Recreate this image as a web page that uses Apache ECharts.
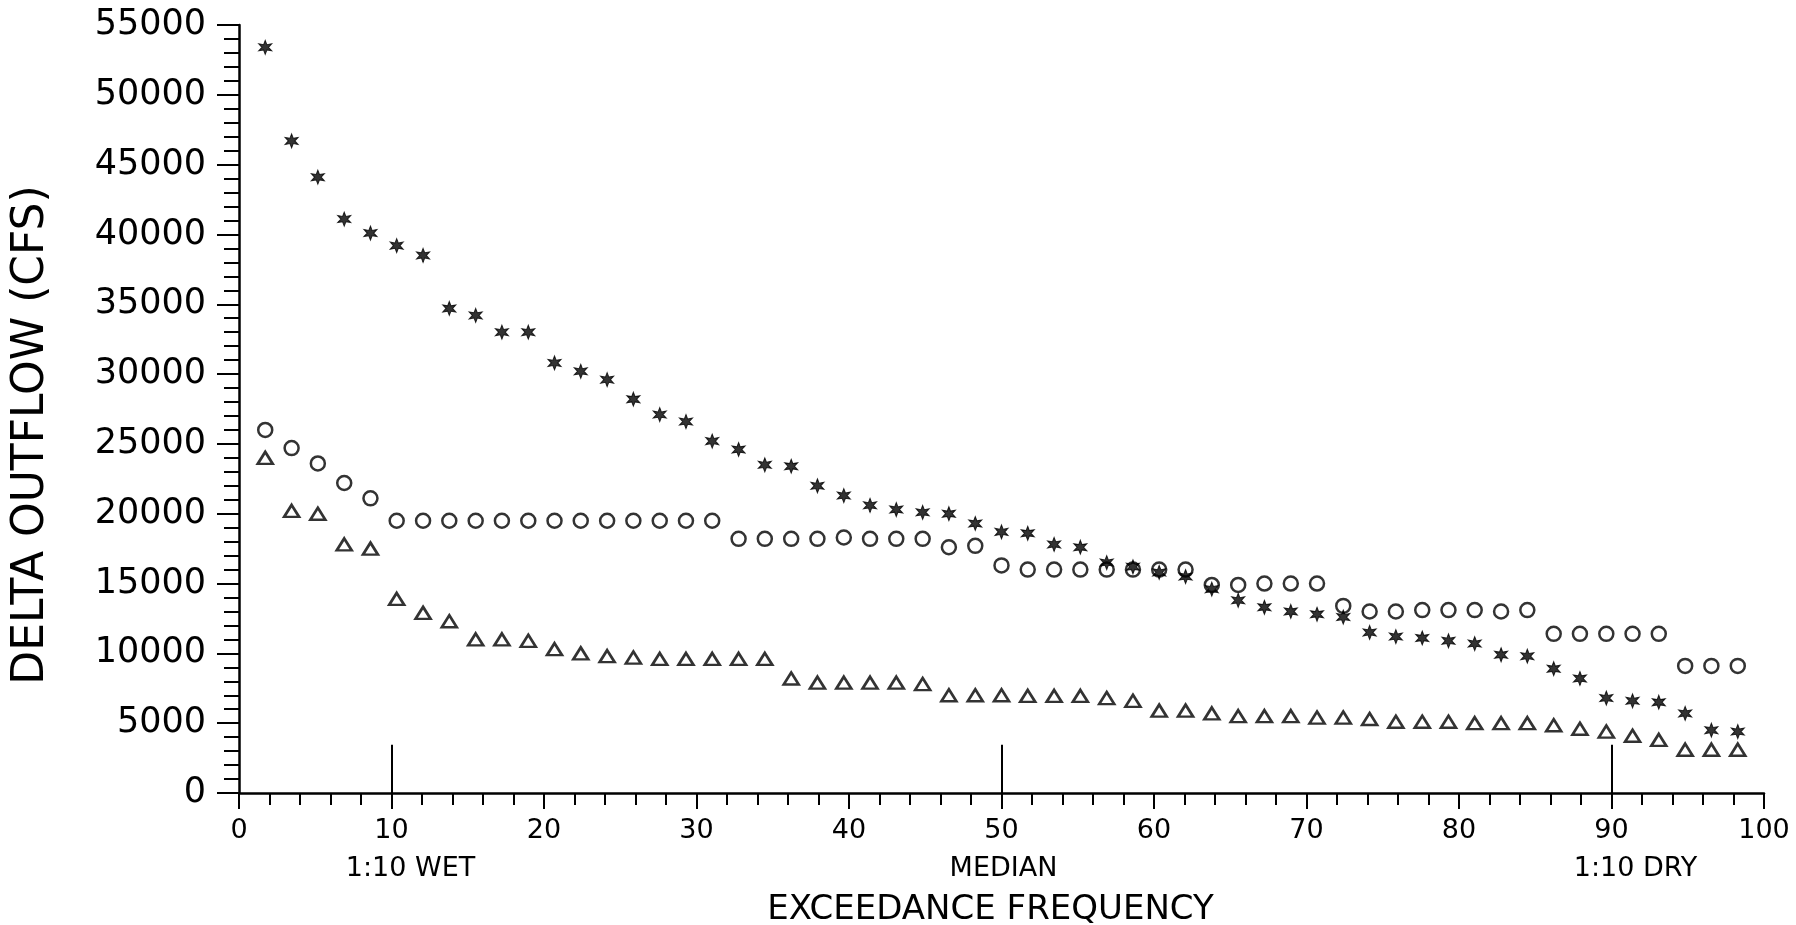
<!DOCTYPE html>
<html>
<head>
<meta charset="utf-8">
<script src="https://cdn.jsdelivr.net/npm/echarts@6/dist/echarts.min.js"></script>
<style>
html,body{margin:0;padding:0;background:#fff;}
#chart{width:1796px;height:925px;}
</style>
</head>
<body>
<div id="chart"></div>
<script>
// Exceedance frequency (%) of each ranked year
const exceedance = [1.72, 3.45, 5.17, 6.90, 8.62, 10.34, 12.07, 13.79, 15.52, 17.24,
  18.97, 20.69, 22.41, 24.14, 25.86, 27.59, 29.31, 31.03, 32.76, 34.48,
  36.21, 37.93, 39.66, 41.38, 43.10, 44.83, 46.55, 48.28, 50.00, 51.72,
  53.45, 55.17, 56.90, 58.62, 60.34, 62.07, 63.79, 65.52, 67.24, 68.97,
  70.69, 72.41, 74.14, 75.86, 77.59, 79.31, 81.03, 82.76, 84.48, 86.21,
  87.93, 89.66, 91.38, 93.10, 94.83, 96.55, 98.28];

// Delta outflow (cfs) - asterisk series
const starFlow = [53400, 46700, 44100, 41100, 40100, 39200, 38500, 34700, 34200, 33000,
  33000, 30800, 30200, 29600, 28200, 27100, 26600, 25200, 24600, 23500,
  23400, 22000, 21300, 20600, 20300, 20100, 20000, 19300, 18700, 18600,
  17800, 17600, 16500, 16200, 15800, 15500, 14600, 13800, 13300, 13000,
  12800, 12600, 11500, 11200, 11100, 10900, 10700, 9900, 9800, 8900,
  8200, 6800, 6600, 6500, 5700, 4500, 4400];

// Delta outflow (cfs) - circle series
const circleFlow = [26000, 24700, 23600, 22200, 21100, 19500, 19500, 19500, 19500, 19500,
  19500, 19500, 19500, 19500, 19500, 19500, 19500, 19500, 18200, 18200,
  18200, 18200, 18300, 18200, 18200, 18200, 17600, 17700, 16300, 16000,
  16000, 16000, 16000, 16000, 16000, 16000, 14900, 14900, 15000, 15000,
  15000, 13400, 13000, 13000, 13100, 13100, 13100, 13000, 13100, 11400,
  11400, 11400, 11400, 11400, 9100, 9100, 9100];

// Delta outflow (cfs) - triangle series
const triangleFlow = [24000, 20200, 20000, 17800, 17500, 13900, 12900, 12300, 11000, 11000,
  10900, 10300, 10000, 9800, 9700, 9600, 9600, 9600, 9600, 9600,
  8200, 7900, 7900, 7900, 7900, 7800, 7000, 7000, 7000, 6950,
  6950, 6950, 6800, 6600, 5900, 5900, 5700, 5500, 5500, 5500,
  5400, 5400, 5300, 5100, 5100, 5100, 5000, 5000, 5000, 4850,
  4600, 4400, 4100, 3800, 3100, 3100, 3100];

// Reference markers
const refFreq = [10, 50, 90];
const refLabels = ['1:10 WET', 'MEDIAN', '1:10 DRY'];
const refLineTop = 3450;

const xTitle = 'EXCEEDANCE FREQUENCY';
const yTitle = 'DELTA OUTFLOW (CFS)';

const FONT = '"DejaVu Sans", "Liberation Sans", sans-serif';
const starPath = 'path://M50 0 L61 31 L93.3 25 L72 50 L93.3 75 L61 69 L50 100 L39 69 L6.7 75 L28 50 L6.7 25 L39 31 Z';

const pair = vals => exceedance.map((x, i) => [x, vals[i]]);
const labelShift = [38, 4, 48];

const chart = echarts.init(document.getElementById('chart'), null, {renderer: 'canvas'});
chart.setOption({
  backgroundColor: '#ffffff',
  animation: false,
  grid: {left: 239, right: 32, top: 25, bottom: 132, outerBoundsMode: 'none'},
  xAxis: {
    type: 'value', min: 0, max: 100, interval: 10,
    name: xTitle, nameLocation: 'middle', nameGap: 100,
    nameTextStyle: {fontFamily: FONT, fontSize: 34, color: '#000', padding: [0, 22, 0, 0]},
    axisLine: {show: true, onZero: false, lineStyle: {color: '#000', width: 2.5}},
    axisTick: {show: true, length: 16, lineStyle: {color: '#000', width: 2}},
    minorTick: {show: true, splitNumber: 5, length: 12, lineStyle: {color: '#000', width: 2}},
    axisLabel: {fontFamily: FONT, fontSize: 27, color: '#000', margin: 24},
    splitLine: {show: false}
  },
  yAxis: {
    type: 'value', min: 0, max: 55000, interval: 5000,
    axisLine: {show: true, onZero: false, lineStyle: {color: '#000', width: 2.5}},
    axisTick: {show: true, length: 22, lineStyle: {color: '#000', width: 2}},
    minorTick: {show: true, splitNumber: 5, length: 15, lineStyle: {color: '#000', width: 2}},
    axisLabel: {fontFamily: FONT, fontSize: 35, color: '#000', margin: 33, formatter: v => String(v)},
    splitLine: {show: false}
  },
  graphic: [{
    type: 'text',
    rotation: Math.PI / 2,
    x: 32, y: 435,
    style: {text: yTitle, fontFamily: FONT, fontSize: 44, fill: '#000', align: 'center', verticalAlign: 'middle'}
  }],
  series: [
    {
      type: 'scatter', name: 'circles', z: 3,
      data: pair(circleFlow),
      symbol: 'circle', symbolSize: 14,
      itemStyle: {color: 'rgba(0,0,0,0)', borderColor: '#000', borderWidth: 2.5},
      markLine: {
        silent: true, symbol: 'none', animation: false,
        lineStyle: {color: '#000', width: 2, type: 'solid'},
        label: {show: true, position: 'start', distance: 62, fontFamily: FONT, fontSize: 27, color: '#000'},
        data: refFreq.map((f, i) => [
          {coord: [f, 0], label: {formatter: refLabels[i], padding: [0, 0, 0, labelShift[i]]}},
          {coord: [f, refLineTop]}
        ])
      }
    },
    {
      type: 'scatter', name: 'stars', z: 4,
      data: pair(starFlow),
      symbol: starPath, symbolSize: [13, 14],
      itemStyle: {color: '#000', borderColor: '#000', borderWidth: 1}
    },
    {
      type: 'scatter', name: 'triangles', z: 3,
      data: pair(triangleFlow),
      symbol: 'triangle', symbolSize: [15, 12],
      itemStyle: {color: 'rgba(0,0,0,0)', borderColor: '#000', borderWidth: 2.6}
    }
  ]
});
</script>
</body>
</html>
